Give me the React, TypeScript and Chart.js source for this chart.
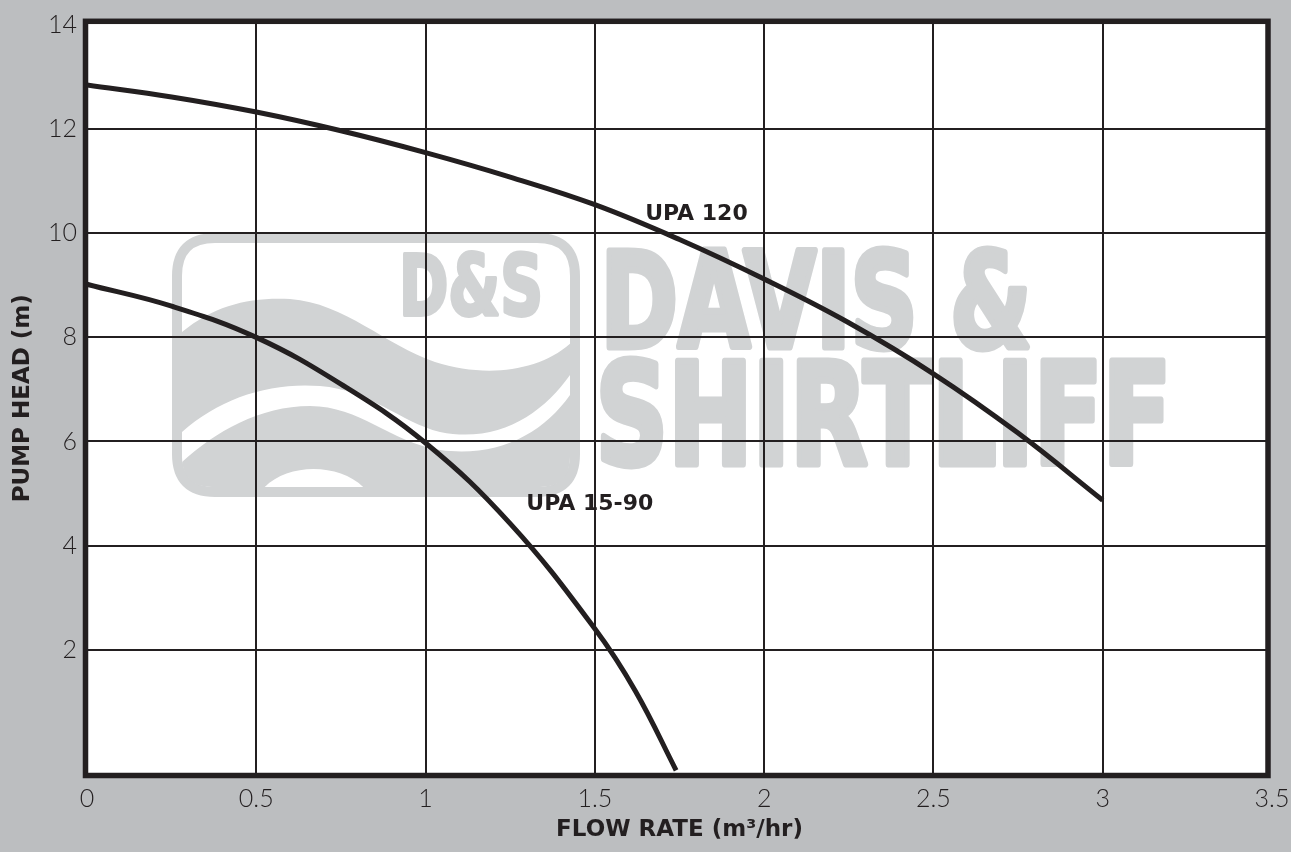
import { useEffect, useRef } from "react";
import { Chart, registerables } from "chart.js";

Chart.register(...registerables);

// ---- data ----
const flowTicks = [0, 0.5, 1, 1.5, 2, 2.5, 3, 3.5];
const headTicks = [2, 4, 6, 8, 10, 12, 14];

const upa120Flow = [0, 0.25, 0.5, 0.75, 1.0, 1.25, 1.5, 1.75, 2.0, 2.25, 2.5, 2.75, 3.0];
const upa120Head = [12.85, 12.62, 12.33, 11.97, 11.55, 11.08, 10.55, 9.88, 9.12, 8.28, 7.3, 6.16, 4.87];

const upa1590Flow = [0, 0.25, 0.5, 0.75, 1.0, 1.25, 1.5, 1.62, 1.74];
const upa1590Head = [9.02, 8.6, 8.0, 7.1, 5.97, 4.42, 2.4, 1.2, -0.32];

const seriesNames = ["UPA 120", "UPA 15-90"];
const seriesLabelFlow = [1.8, 1.485];
const seriesLabelHead = [10.36, 4.8];

const xTitle = "FLOW RATE (m³/hr)";
const yTitle = "PUMP HEAD (m)";

// ---- styles ----
const INK = "#231f20";
const BG = "#bcbec0";
const MARK = "#d1d3d4";
const TICK_FONT = "Lato";
const BOLD_FONT = "'DejaVu Sans'";

function roundRectPath(ctx: CanvasRenderingContext2D, x: number, y: number, w: number, h: number, r: number) {
  ctx.beginPath();
  ctx.moveTo(x + r, y);
  ctx.lineTo(x + w - r, y);
  ctx.quadraticCurveTo(x + w, y, x + w, y + r);
  ctx.lineTo(x + w, y + h - r);
  ctx.quadraticCurveTo(x + w, y + h, x + w - r, y + h);
  ctx.lineTo(x + r, y + h);
  ctx.quadraticCurveTo(x, y + h, x, y + h - r);
  ctx.lineTo(x, y + r);
  ctx.quadraticCurveTo(x, y, x + r, y);
  ctx.closePath();
}

function fitText(ctx: CanvasRenderingContext2D, text: string, left: number, right: number, baseline: number, cap: number, heavy: number) {
  const size = (cap - heavy) / 0.73;
  ctx.font = `bold ${size}px 'DejaVu Sans', sans-serif`;
  const w = ctx.measureText(text).width;
  ctx.save();
  ctx.translate(left + heavy / 2, baseline - heavy / 2);
  ctx.scale((right - left - heavy) / w, 1);
  ctx.textAlign = "left";
  ctx.textBaseline = "alphabetic";
  ctx.lineJoin = "round";
  ctx.lineWidth = heavy;
  ctx.fillText(text, 0, 0);
  ctx.strokeText(text, 0, 0);
  ctx.restore();
}

function drawWatermark(ctx: CanvasRenderingContext2D) {
  ctx.save();
  ctx.fillStyle = MARK;
  ctx.strokeStyle = MARK;
  ctx.lineWidth = 10;
  roundRectPath(ctx, 177, 238, 398, 254, 38);
  ctx.stroke();

  ctx.save();
  roundRectPath(ctx, 182, 243, 388, 244, 30);
  ctx.clip();
  ctx.beginPath();
  ctx.moveTo(182, 332);
  ctx.bezierCurveTo(215, 305, 250, 297, 290, 299);
  ctx.bezierCurveTo(345, 303, 385, 345, 435, 362);
  ctx.bezierCurveTo(485, 378, 540, 372, 572, 342);
  ctx.lineTo(572, 490);
  ctx.lineTo(182, 490);
  ctx.closePath();
  ctx.fill();
  ctx.fillStyle = "#ffffff";
  ctx.beginPath();
  ctx.moveTo(182, 432);
  ctx.bezierCurveTo(220, 398, 270, 382, 320, 386);
  ctx.bezierCurveTo(370, 390, 400, 422, 440, 432);
  ctx.bezierCurveTo(500, 444, 545, 412, 572, 372);
  ctx.lineTo(572, 392);
  ctx.bezierCurveTo(545, 432, 500, 458, 440, 450);
  ctx.bezierCurveTo(390, 442, 360, 406, 310, 406);
  ctx.bezierCurveTo(260, 406, 215, 432, 182, 462);
  ctx.closePath();
  ctx.fill();
  ctx.beginPath();
  ctx.moveTo(262, 490);
  ctx.bezierCurveTo(285, 462, 342, 462, 366, 490);
  ctx.closePath();
  ctx.fill();
  ctx.restore();

  ctx.fillStyle = MARK;
  ctx.strokeStyle = MARK;
  fitText(ctx, "D&S", 397, 545, 317, 65, 4);
  fitText(ctx, "DAVIS &", 597, 1035, 350, 103, 7);
  fitText(ctx, "SHIRTLIFF", 592, 1175, 467, 110, 7);
  ctx.restore();
}

const backdrop = {
  id: "backdrop",
  beforeDraw(chart: any) {
    const { ctx, chartArea: a } = chart;
    ctx.save();
    ctx.fillStyle = BG;
    ctx.fillRect(0, 0, chart.width, chart.height);
    ctx.fillStyle = "#ffffff";
    ctx.fillRect(a.left - 2, a.top, a.right - 4 - (a.left - 2), a.bottom - a.top);
    drawWatermark(ctx);
    ctx.restore();
  },
};

const frameAndLabels = {
  id: "frameAndLabels",
  afterDatasetsDraw(chart: any) {
    const { ctx, chartArea: a, scales } = chart;
    ctx.save();
    // hide grid stubs beyond the frame on the right
    ctx.fillStyle = BG;
    ctx.fillRect(a.right - 2, a.top - 3, 6, a.bottom - a.top + 6);
    ctx.strokeStyle = INK;
    ctx.lineWidth = 5.5;
    ctx.strokeRect(a.left - 1.5, a.top + 0.3, a.right - 4 - (a.left - 1.5), a.bottom - a.top - 0.3);
    ctx.fillStyle = INK;
    ctx.font = `bold 22px ${BOLD_FONT}, sans-serif`;
    ctx.textAlign = "center";
    ctx.textBaseline = "middle";
    seriesNames.forEach((name, i) => {
      ctx.fillText(name, scales.x.getPixelForValue(seriesLabelFlow[i]), scales.y.getPixelForValue(seriesLabelHead[i]));
    });
    ctx.restore();
  },
};

export default function App() {
  const ref = useRef<HTMLCanvasElement>(null);
  useEffect(() => {
    const canvas = ref.current!;
    const chart = new Chart(canvas, {
      type: "line",
      data: {
        datasets: [
          {
            label: seriesNames[0],
            data: upa120Flow.map((x, i) => ({ x, y: upa120Head[i] })),
            borderColor: INK,
            borderWidth: 5,
            pointRadius: 0,
            tension: 0.4,
            fill: false,
          },
          {
            label: seriesNames[1],
            data: upa1590Flow.map((x, i) => ({ x, y: upa1590Head[i] })),
            borderColor: INK,
            borderWidth: 5,
            pointRadius: 0,
            tension: 0.4,
            fill: false,
          },
        ],
      },
      options: {
        responsive: false,
        animation: false,
        devicePixelRatio: 1,
        layout: { padding: { top: 21, right: 19, left: 0, bottom: 0 } },
        plugins: { legend: { display: false }, tooltip: { enabled: false } },
        scales: {
          x: {
            type: "linear",
            min: 0,
            max: 3.5,
            afterBuildTicks: (s: any) => {
              s.ticks = flowTicks.map((v) => ({ value: v }));
            },
            afterFit: (s: any) => {
              s.height = 76.5;
              s.paddingLeft = 0;
              s.paddingRight = 0;
            },
            ticks: {
              autoSkip: false,
              maxRotation: 0,
              padding: 8,
              color: INK,
              font: { family: TICK_FONT, size: 25, weight: "300" },
              callback: (v: any) => String(v),
            },
            grid: {
              color: (c: any) => (c.tick && (c.tick.value === 0 || c.tick.value === 3.5) ? "rgba(0,0,0,0)" : INK),
              lineWidth: 2,
              drawTicks: false,
            },
            border: { display: false },
            title: {
              display: true,
              text: xTitle,
              color: INK,
              font: { family: BOLD_FONT, size: 23, weight: "bold" },
              padding: { top: 0, bottom: 8 },
            },
          },
          y: {
            type: "linear",
            min: -0.42,
            max: 14.08,
            afterBuildTicks: (s: any) => {
              s.ticks = headTicks.map((v) => ({ value: v }));
            },
            afterFit: (s: any) => {
              s.width = 87;
              s.paddingTop = 0;
              s.paddingBottom = 0;
            },
            ticks: {
              autoSkip: false,
              padding: 10,
              color: INK,
              font: { family: TICK_FONT, size: 25, weight: "300" },
              callback: (v: any) => String(v),
            },
            grid: {
              color: (c: any) => (c.tick && c.tick.value === 14 ? "rgba(0,0,0,0)" : INK),
              lineWidth: 2,
              drawTicks: false,
            },
            border: { display: false },
            title: {
              display: true,
              text: yTitle,
              color: INK,
              font: { family: BOLD_FONT, size: 23, weight: "bold" },
              padding: { top: 9, bottom: 0 },
            },
          },
        },
      },
      plugins: [backdrop, frameAndLabels],
    } as any);
    return () => chart.destroy();
  }, []);
  return (
    <div style={{ position: "fixed", left: 0, top: 0, width: 1291, height: 852, background: BG }}>
      <canvas ref={ref} width={1291} height={852} style={{ display: "block" }} />
    </div>
  );
}
